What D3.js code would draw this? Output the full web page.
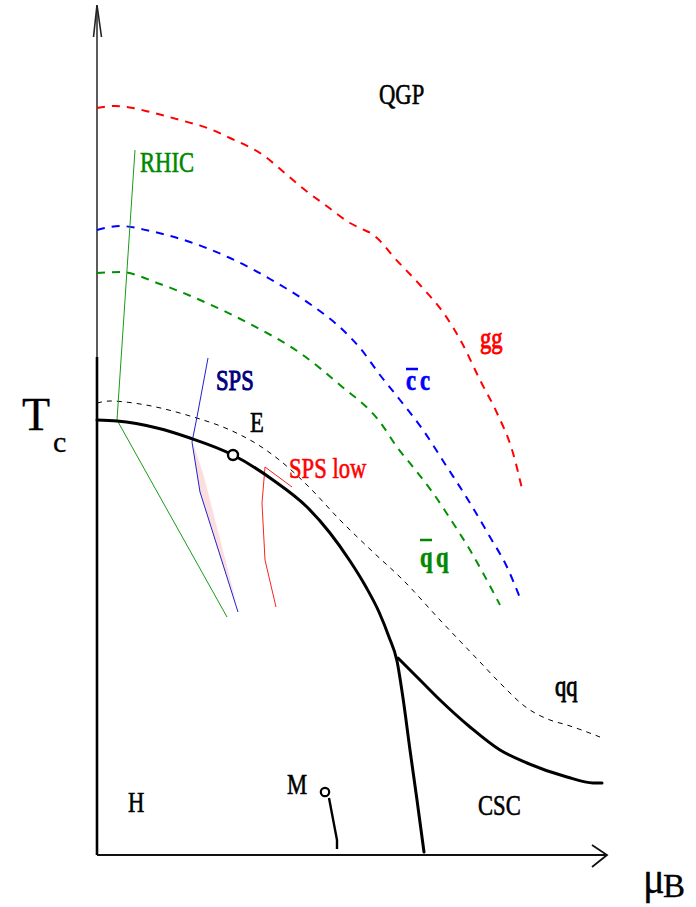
<!DOCTYPE html>
<html>
<head>
<meta charset="utf-8">
<script src="https://cdn.jsdelivr.net/npm/d3@7/dist/d3.min.js"></script>
<style>
  html, body { margin: 0; padding: 0; background: #fff; }
  svg { display: block; }
  text { font-family: "Liberation Serif", "Times New Roman", serif; }
</style>
</head>
<body>
<script>
// Schematic QCD phase diagram: temperature T vs baryon chemical potential mu_B.
// All curves are given in diagram units (mu, T).

// Freeze-out / dissociation lines (dashed)
const ggLine = [[0,149.4],[3.6,149.8],[7.2,149.4],[10.6,148.6],[16.6,147],[22.6,145.2],[26.6,143.4],[33.2,140],[38,136],[41.6,133],[46.2,129.6],[50.6,126.4],[53,125.2],[55,124.2],[57,122.4],[59,120],[64.6,114],[69.6,108],[73,102.4],[76.6,95],[80,88.4],[83.2,80.4],[85.2,72.4]];
const ccLine = [[0,125],[4.6,125.8],[10.6,124.8],[18.6,122.6],[26.6,119.4],[34.6,115.2],[42.6,110.2],[49.6,104.6],[52.6,101.4],[56.6,96],[60.6,91],[65.2,85],[70,77.6],[74.6,70.4],[78.6,63.6],[82,57.6],[84.6,51.4]];
const qqbarLine = [[0,116.4],[4.6,116.6],[12.6,114.2],[20.6,111],[30.6,106.2],[40.6,100.4],[48.6,94],[56.6,86.6],[60,81.6],[63.2,77.6],[67.2,72.4],[71.2,66.4],[74.6,61],[77.2,56.4],[80.6,50]];
const qqLine = [[0,90.4],[2.6,90.8],[8.6,90.2],[18.6,87.8],[26.6,85],[32.6,81.8],[37.2,78.4],[42,74],[48.6,67],[55.2,60.6],[61.2,55],[68.6,47],[76.6,38.6],[80.6,34.4],[86,29.4],[90.6,27],[94,26],[100.6,23.6]];

// Phase boundaries (solid)
const hadronBoundary = [[0,87],[4,86.8],[12,85.4],[18.6,83.4],[27.2,80],[35.2,75],[42,69.6],[46.6,64.4],[50.6,58.8],[53.8,53.6],[56.4,48.6],[58.4,43.6],[60,38.8],[61.2,31.4],[62.6,21],[64,11],[65.4,0.6]];
const cscBoundary = [[60.2,39.4],[64.6,35],[68.6,31],[74.6,25.6],[80.6,21],[86,18.4],[94,15.6],[99.2,14.4],[101,14.4]];

// Critical point E and nuclear matter point M
const pointE = [27.2, 80];
const pointM = [45.6, 12.6];
const mStem = [[46.4,11.4],[48,3],[48,1.2]];

// Heavy-ion trajectories
const rhicTrack = [[7.6,141],[4,87],[26,47.6]];
const spsTrack = [[22.2,99.4],[20,87.6],[19,82.6],[20.6,72.6],[28.2,48.6]];
const spsBand = [[19.2,82.4],[21.2,76.4],[26.2,57],[28,50],[26,55.5],[20.6,72.6],[19.6,79]];
const spsLowTrack = [[39,73.6],[33.6,77.6],[33,70.4],[33.6,59],[35.8,49.6]];

const W = 696, H = 907;
const svg = d3.select("body").append("svg").attr("width", W).attr("height", H);

const x = d3.scaleLinear().domain([0, 100]).range([97, 597]);
const y = d3.scaleLinear().domain([0, 100]).range([855, 355]);

const smooth = d3.line().x(d => x(d[0])).y(d => y(d[1])).curve(d3.curveMonotoneX);
const straight = d3.line().x(d => x(d[0])).y(d => y(d[1]));

// Axes with arrow heads
const ax = svg.append("g").attr("fill", "none").attr("stroke-linecap", "butt");
ax.append("line").attr("x1", x(0)).attr("y1", y(99.6)).attr("x2", x(0)).attr("y2", y(170))
  .attr("stroke", "#333").attr("stroke-width", 1.6);
ax.append("line").attr("x1", x(0)).attr("y1", y(0)).attr("x2", x(0)).attr("y2", y(99.6))
  .attr("stroke", "#000").attr("stroke-width", 2.6);
ax.append("path").attr("d", `M${x(-0.7)},${y(163.6)} L${x(0)},${y(170)} L${x(0.9)},${y(163.6)}`)
  .attr("stroke", "#222").attr("stroke-width", 1.6);
ax.append("line").attr("x1", x(0)).attr("y1", y(0)).attr("x2", x(102)).attr("y2", y(0))
  .attr("stroke", "#111").attr("stroke-width", 1.8);
ax.append("path").attr("d", `M${x(99)},${y(2)} L${x(102)},${y(0)} L${x(99)},${y(-2.4)}`)
  .attr("stroke", "#111").attr("stroke-width", 1.8);

// SPS band
svg.append("path").attr("d", straight(spsBand) + "Z").attr("fill", "#fbd6d6").attr("opacity", 0.8);

// Dashed lines
const dashed = [
  { data: ggLine, color: "#ff0000", width: 2, dash: "8,7" },
  { data: ccLine, color: "#0000ff", width: 2, dash: "8,7" },
  { data: qqbarLine, color: "#009000", width: 2, dash: "8,7" },
  { data: qqLine, color: "#000000", width: 1, dash: "5,5" }
];
svg.append("g").attr("fill", "none").selectAll("path").data(dashed).join("path")
  .attr("d", d => smooth(d.data))
  .attr("stroke", d => d.color)
  .attr("stroke-width", d => d.width)
  .attr("stroke-dasharray", d => d.dash);

// Trajectories
const tracks = [
  { data: rhicTrack, color: "#1a9a1a" },
  { data: spsTrack, color: "#2020d0" },
  { data: spsLowTrack, color: "#ff2020" }
];
svg.append("g").attr("fill", "none").selectAll("path").data(tracks).join("path")
  .attr("d", d => straight(d.data))
  .attr("stroke", d => d.color)
  .attr("stroke-width", 1);

// Phase boundaries
svg.append("g").attr("fill", "none").attr("stroke", "#000").attr("stroke-width", 3)
  .attr("stroke-linecap", "round")
  .selectAll("path").data([hadronBoundary, cscBoundary]).join("path")
  .attr("d", d => smooth(d));

svg.append("path").attr("d", straight(mStem)).attr("fill", "none").attr("stroke", "#000").attr("stroke-width", 2.4);
svg.append("circle").attr("cx", x(pointE[0])).attr("cy", y(pointE[1])).attr("r", 5)
  .attr("fill", "#fff").attr("stroke", "#000").attr("stroke-width", 2.4);
svg.append("circle").attr("cx", x(pointM[0])).attr("cy", y(pointM[1])).attr("r", 4.2)
  .attr("fill", "#fff").attr("stroke", "#000").attr("stroke-width", 2.2);

// Text labels (narrow serif)
function label(txt, mu, t, opt = {}) {
  const sx = opt.sx ?? 0.78;
  const color = opt.color ?? "#000";
  svg.append("text")
    .attr("transform", `translate(${x(mu)},${y(t)}) scale(${sx},1)`)
    .attr("font-size", opt.size ?? 29)
    .attr("font-weight", opt.bold ? "bold" : "normal")
    .attr("fill", color)
    .attr("stroke", color)
    .attr("stroke-width", opt.sw ?? 0.6)
    .text(txt);
}

label("QGP", 56.4, 150.2);
label("RHIC", 8.6, 136.6, { color: "#008800" });
label("SPS", 23.8, 93, { color: "#000080", sw: 1 });
label("E", 30.6, 84.6);
label("SPS low", 38.4, 75.4, { color: "#ff0000" });
label("gg", 76.6, 101.4, { color: "#ff0000", sw: 0.9 });
label("c", 61.8, 93, { color: "#0000ff", bold: true });
label("c", 64.6, 93, { color: "#0000ff", bold: true });
svg.append("line").attr("x1", x(61.8)).attr("x2", x(64.2)).attr("y1", y(94.6) - 13).attr("y2", y(94.6) - 13)
  .attr("stroke", "#0000ff").attr("stroke-width", 2.5);
label("q", 64.6, 57.6, { color: "#008800", bold: true });
label("q", 67.8, 57.6, { color: "#008800", bold: true });
svg.append("line").attr("x1", x(64.6)).attr("x2", x(67)).attr("y1", y(63)).attr("y2", y(63))
  .attr("stroke", "#008800").attr("stroke-width", 2.5);
label("qq", 91.6, 31.8, { sw: 0.9 });
label("CSC", 76.2, 8);
label("H", 6.2, 8.6);
label("M", 38, 12.2);

// Axis titles
label("T", -15, 85, { size: 46, sx: 1, sw: 0.3 });
label("c", -8.8, 80.6, { size: 30, sx: 1, sw: 0.3 });
label("μ", 109.2, -7.6, { size: 46, sx: 0.88, sw: 0.3 });
label("B", 113.2, -8.4, { size: 33, sx: 1, sw: 0.3 });
</script>
</body>
</html>
